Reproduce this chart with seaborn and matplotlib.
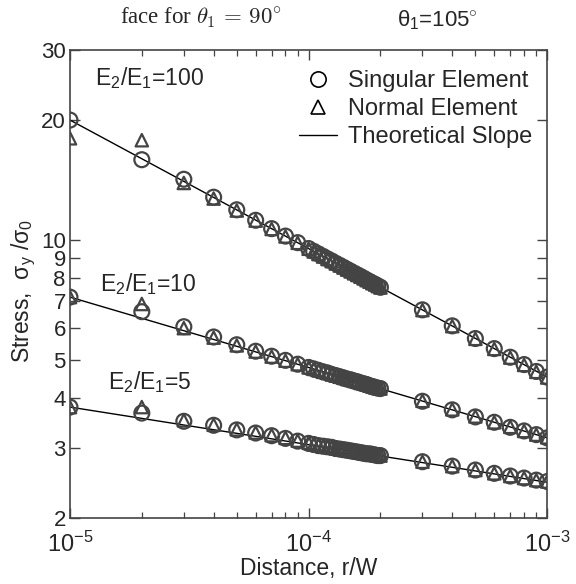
"""
Esfuerzo cerca de la singularidad: elemento singular vs elemento normal
para tres relaciones de rigidez E2/E1 (theta_1 = 105 grados).
"""

import matplotlib.pyplot as plt
import numpy as np
import pandas as pd
import seaborn as sns
from matplotlib.lines import Line2D
from matplotlib.ticker import FixedLocator, LogLocator, NullFormatter, NullLocator

# distancias r/W en unidades de 1e-5
DISTANCE_E5 = [1, 2, 3, 4, 5, 6, 7, 8, 9, 10,
               10.5, 11, 11.5, 12, 12.5, 13, 13.5, 14, 14.5, 15,
               15.5, 16, 16.5, 17, 17.5, 18, 18.5, 19, 19.5, 20,
               30, 40, 50, 60, 70, 80, 90, 100]

SINGULAR_100 = [20.0, 15.9, 14.2, 12.8, 11.9, 11.2, 10.67, 10.22, 9.84, 9.51,
                9.36, 9.22, 9.09, 8.96, 8.85, 8.73, 8.63, 8.53, 8.43, 8.34,
                8.25, 8.17, 8.09, 8.01, 7.93, 7.86, 7.79, 7.73, 7.66, 7.60,
                6.67, 6.08, 5.65, 5.33, 5.07, 4.86, 4.67, 4.52]
NORMAL_100 = [18.0, 17.8, 13.9, 12.7, 11.85, 11.18, 10.65, 10.2, 9.83, 9.5,
              9.35, 9.21, 9.08, 8.95, 8.84, 8.72, 8.62, 8.52, 8.42, 8.33,
              8.24, 8.16, 8.08, 8.0, 7.92, 7.85, 7.78, 7.72, 7.65, 7.59,
              6.66, 6.07, 5.64, 5.32, 5.06, 4.85, 4.66, 4.51]

SINGULAR_10 = [7.18, 6.6, 6.05, 5.7, 5.45, 5.25, 5.1, 4.98, 4.87, 4.78,
               4.74, 4.70, 4.66, 4.63, 4.59, 4.56, 4.53, 4.50, 4.47, 4.45,
               4.42, 4.40, 4.37, 4.35, 4.33, 4.30, 4.28, 4.26, 4.24, 4.23,
               3.93, 3.74, 3.59, 3.48, 3.38, 3.31, 3.24, 3.18]
NORMAL_10 = [7.18, 6.9, 6.0, 5.68, 5.43, 5.24, 5.09, 4.97, 4.87, 4.78,
             4.74, 4.70, 4.66, 4.63, 4.59, 4.56, 4.53, 4.50, 4.47, 4.45,
             4.42, 4.40, 4.37, 4.35, 4.33, 4.30, 4.28, 4.26, 4.24, 4.23,
             3.94, 3.75, 3.60, 3.48, 3.39, 3.31, 3.24, 3.19]

SINGULAR_5 = [3.8, 3.67, 3.5, 3.42, 3.33, 3.27, 3.22, 3.17, 3.12, 3.08,
              3.06, 3.04, 3.03, 3.02, 3.01, 2.99, 2.98, 2.97, 2.96, 2.95,
              2.94, 2.93, 2.92, 2.91, 2.90, 2.90, 2.89, 2.88, 2.87, 2.87,
              2.77, 2.70, 2.64, 2.59, 2.55, 2.52, 2.49, 2.47]
NORMAL_5 = [3.8, 3.8, 3.52, 3.43, 3.34, 3.28, 3.23, 3.18, 3.13, 3.09,
            3.07, 3.05, 3.03, 3.02, 3.01, 2.99, 2.98, 2.97, 2.96, 2.95,
            2.94, 2.93, 2.92, 2.91, 2.90, 2.90, 2.89, 2.88, 2.87, 2.87,
            2.77, 2.70, 2.64, 2.59, 2.55, 2.52, 2.49, 2.47]

# pendiente teorica: extremos de cada recta
THEORY_X = [1e-5, 1e-3]
THEORY_100 = [20.0, 4.52]
THEORY_10 = [7.18, 3.18]
THEORY_5 = [3.8, 2.46]

RATIO_LABELS = ["E$_2$/E$_1$=100", "E$_2$/E$_1$=10", "E$_2$/E$_1$=5"]
Y_TICKS = [2, 3, 4, 5, 6, 7, 8, 9, 10, 20, 30]

EDGE = "#444444"

sns.set_style("ticks")
plt.rcParams["font.family"] = ["Liberation Sans", "DejaVu Sans"]
plt.rcParams["mathtext.fontset"] = "custom"
plt.rcParams["mathtext.rm"] = "Liberation Sans"
plt.rcParams["mathtext.it"] = "Liberation Sans"
plt.rcParams["mathtext.sf"] = "Liberation Sans"

distance = np.array(DISTANCE_E5) * 1e-5
series = [
    (SINGULAR_100, NORMAL_100, THEORY_100),
    (SINGULAR_10, NORMAL_10, THEORY_10),
    (SINGULAR_5, NORMAL_5, THEORY_5),
]

fig = plt.figure(figsize=(5.76, 5.84), dpi=100)
ax = fig.add_axes([0.1215, 0.113, 0.8285, 0.8014])

for singular, normal, theory in series:
    sns.lineplot(x=THEORY_X, y=theory, color="black", linewidth=1.0, ax=ax)
    df = pd.DataFrame({"r": distance, "sing": singular, "norm": normal})
    sns.scatterplot(data=df, x="r", y="sing", marker="o", s=115,
                    facecolor="none", edgecolor=EDGE, linewidth=1.6, ax=ax, zorder=3)
    sns.scatterplot(data=df, x="r", y="norm", marker="^", s=80,
                    facecolor="none", edgecolor=EDGE, linewidth=1.6, ax=ax, zorder=3)

ax.set_xscale("log")
ax.set_yscale("log")
ax.set_xlim(1e-5, 1e-3)
ax.set_ylim(2, 30)

ax.yaxis.set_major_locator(FixedLocator(Y_TICKS))
ax.set_yticklabels([str(t) for t in Y_TICKS])
ax.yaxis.set_minor_locator(NullLocator())
ax.yaxis.set_minor_formatter(NullFormatter())
ax.xaxis.set_major_locator(LogLocator(base=10))
ax.xaxis.set_minor_locator(LogLocator(base=10, subs=np.arange(2, 10)))
ax.xaxis.set_minor_formatter(NullFormatter())

ax.tick_params(which="both", direction="in", top=True, right=True,
               labelsize=16, color=EDGE)
ax.tick_params(which="major", length=7, width=1.0, pad=3)
ax.tick_params(axis="x", which="major", labelsize=17, pad=10)
ax.tick_params(which="minor", length=4, width=0.9)
for spine in ax.spines.values():
    spine.set_linewidth(1.2)
    spine.set_color(EDGE)

ax.set_xlabel("Distance, r/W", fontsize=16.5, labelpad=0)
ax.set_ylabel(r"Stress,  $\sigma_y$ /$\sigma_0$", fontsize=16.5)
ax.yaxis.set_label_coords(-0.066, 0.485)

# etiquetas de cada curva
ax.text(1.27e-5, 25.5, RATIO_LABELS[0], fontsize=16.5, va="center")
ax.text(1.33e-5, 7.75, RATIO_LABELS[1], fontsize=16.5, va="center")
ax.text(1.44e-5, 4.38, RATIO_LABELS[2], fontsize=16.5, va="center")

handles = [
    Line2D([], [], linestyle="none", marker="o", markersize=11,
           markerfacecolor="none", markeredgecolor="black", markeredgewidth=1.2),
    Line2D([], [], linestyle="none", marker="^", markersize=10,
           markerfacecolor="none", markeredgecolor="black", markeredgewidth=1.2),
    Line2D([], [], color="black", linewidth=1.0),
]
ax.legend(handles, ["Singular Element", "Normal Element", "Theoretical Slope"],
          loc="upper right", bbox_to_anchor=(1.0, 0.99), frameon=False,
          fontsize=17, handlelength=1.6, handletextpad=0.45, labelspacing=0.25,
          borderaxespad=0.25)

# textos cortados del encabezado original
fig.text(0.208, 0.968, r"face for $\theta_1\,=\,90^{\circ}$", fontsize=16.5,
         family="Liberation Serif", math_fontfamily="cm", va="center")
fig.text(0.69, 0.966, r"$\theta_1$=105$^{\circ}$", fontsize=16, va="center")

fig.savefig("out.png", dpi=100)
